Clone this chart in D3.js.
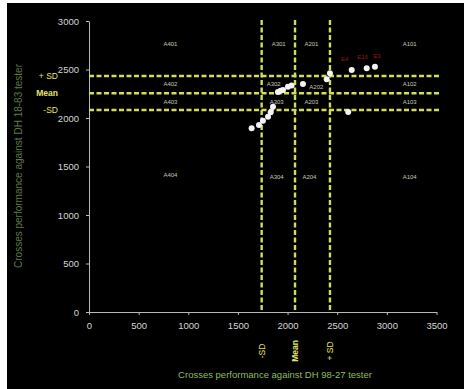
<!DOCTYPE html>
<html>
<head>
<meta charset="utf-8">
<script src="https://cdn.jsdelivr.net/npm/d3@7"></script>
<style>
  html, body { margin: 0; padding: 0; background: #fff; }
  svg { display: block; }
  text { font-family: "Liberation Sans", Arial, sans-serif; }
</style>
</head>
<body>
<script>
// Cross performance against the two testers (kg/ha)
const xTicks = [0, 500, 1000, 1500, 2000, 2500, 3000, 3500];
const yTicks = [0, 500, 1000, 1500, 2000, 2500, 3000];

const crossX = [1638, 1712, 1752, 1803, 1830, 1853, 1903, 1930, 1954, 2004, 2040, 2155, 2394, 2427, 2611, 2646, 2797, 2880];
const crossY = [1894, 1928, 1972, 2013, 2060, 2116, 2268, 2280, 2289, 2323, 2335, 2351, 2399, 2461, 2062, 2495, 2512, 2529];

// Mean and ±SD of each tester
const xStats = { minusSD: 1739, mean: 2075, plusSD: 2427 };
const yStats = { minusSD: 2082, mean: 2255, plusSD: 2433 };
const xStatLabels = ["-SD", "Mean", "+ SD"];
const yStatLabels = ["+ SD", "Mean", "-SD"];

// Group codes in each cell of the grid
const groupCodes = ["A401", "A402", "A403", "A404", "A301", "A302", "A303", "A304",
                    "A201", "A202", "A203", "A204", "A101", "A102", "A103", "A104"];
const groupX = [820, 820, 820, 820, 1910, 1860, 1890, 1890, 2240, 2290, 2240, 2220, 3230, 3230, 3230, 3230];
const groupY = [2760, 2350, 2170, 1410, 2760, 2350, 2170, 1390, 2760, 2320, 2170, 1390, 2760, 2350, 2170, 1390];

// Highlighted crosses
const topCrosses = ["E4", "E16", "E3"];
const topX = [2646, 2797, 2880];
const topY = [2495, 2512, 2529];

const W = 464, H = 389;
const svg = d3.select("body").append("svg").attr("width", W).attr("height", H);

svg.append("rect").attr("x", 7).attr("y", 3).attr("width", W - 7).attr("height", H - 3).attr("fill", "#000");

const x = d3.scaleLinear().domain([0, 3500]).range([89, 436.5]);
const y = d3.scaleLinear().domain([0, 3000]).range([312, 21]);

const axisColor = "#b8b8b8";
const tickText = "#d6d6d6";
const guide = "#d2dc5a";

// Axes
const gx = svg.append("g").attr("transform", "translate(0,312)")
  .call(d3.axisBottom(x).tickValues(xTicks).tickFormat(d3.format("d"))
    .tickSize(3).tickSizeOuter(0).tickPadding(7));
const gy = svg.append("g").attr("transform", "translate(89,0)")
  .call(d3.axisLeft(y).tickValues(yTicks).tickFormat(d3.format("d"))
    .tickSize(3).tickSizeOuter(0).tickPadding(7));
[gx, gy].forEach(g => {
  g.selectAll("path, line").attr("stroke", axisColor);
  g.selectAll("text").attr("fill", tickText).attr("font-size", 9.5)
    .attr("font-family", "'DejaVu Sans Condensed', 'Liberation Sans', sans-serif");
});

// Dashed SD / mean guides
const dash = "5,2.5";
[xStats.minusSD, xStats.mean, xStats.plusSD].forEach(v => {
  svg.append("line").attr("x1", x(v)).attr("x2", x(v)).attr("y1", 20).attr("y2", 312)
    .attr("stroke", guide).attr("stroke-width", 2.4).attr("stroke-dasharray", dash);
});
[yStats.plusSD, yStats.mean, yStats.minusSD].forEach(v => {
  svg.append("line").attr("x1", 89).attr("x2", 439).attr("y1", y(v)).attr("y2", y(v))
    .attr("stroke", guide).attr("stroke-width", 2.4).attr("stroke-dasharray", dash);
});

// Guide labels
const yLabelVals = [yStats.plusSD, yStats.mean, yStats.minusSD];
yStatLabels.forEach((t, i) => {
  svg.append("text").attr("x", 58).attr("y", y(yLabelVals[i]) + 3)
    .attr("text-anchor", "end").attr("fill", "#e4e46a").attr("font-size", 8.5)
    .attr("font-weight", i === 1 ? "bold" : "normal").text(t);
});
const xLabelVals = [xStats.minusSD, xStats.mean, xStats.plusSD];
xStatLabels.forEach((t, i) => {
  const px = x(xLabelVals[i]) + 3, py = 351;
  svg.append("text").attr("transform", `translate(${px},${py}) rotate(-90)`)
    .attr("text-anchor", "middle").attr("fill", "#e4e46a").attr("font-size", 8.5)
    .attr("font-weight", i === 1 ? "bold" : "normal").text(t);
});

// Group codes
groupCodes.forEach((c, i) => {
  svg.append("text").attr("x", x(groupX[i])).attr("y", y(groupY[i]) + 2)
    .attr("text-anchor", "middle").attr("fill", "#c8c8b0").attr("font-size", 6).text(c);
});

// Crosses
const pts = crossX.map((v, i) => ({ x: v, y: crossY[i] }));
svg.append("g").selectAll("circle").data(pts).join("circle")
  .attr("cx", d => x(d.x)).attr("cy", d => y(d.y)).attr("r", 3)
  .attr("fill", "#f4f4f4");

const labelShift = [-7, -4, 2];
topCrosses.forEach((t, i) => {
  svg.append("text").attr("x", x(topX[i]) + labelShift[i]).attr("y", y(topY[i]) - 9)
    .attr("text-anchor", "middle").attr("fill", "#8e1c1c").attr("font-size", 6).text(t);
});

// Axis titles
svg.append("text").attr("x", 275).attr("y", 378).attr("text-anchor", "middle")
  .attr("fill", "#8fbf5a").attr("font-size", 9.5)
  .text("Crosses performance against DH 98-27 tester");
svg.append("text").attr("transform", "translate(22,166) rotate(-90)").attr("text-anchor", "middle")
  .attr("fill", "#5e7c42").attr("font-size", 10)
  .text("Crosses performance against DH 18-83 tester");
</script>
</body>
</html>
